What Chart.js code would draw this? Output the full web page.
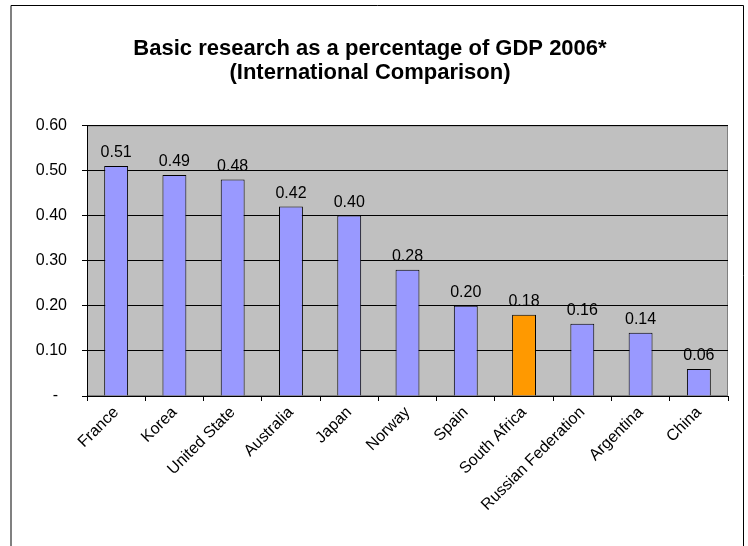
<!DOCTYPE html>
<html>
<head>
<meta charset="utf-8">
<script src="https://cdn.jsdelivr.net/npm/chart.js@4/dist/chart.umd.min.js"></script>
<style>
  html, body { margin: 0; padding: 0; background: #fff; }
  #wrap { width: 748px; height: 546px; }
</style>
</head>
<body>
<div id="wrap"><canvas id="chart" width="748" height="546"></canvas></div>
<script>
// Chart data
const countries = ['France', 'Korea', 'United State', 'Australia', 'Japan', 'Norway',
                   'Spain', 'South Africa', 'Russian Federation', 'Argentina', 'China'];
const basicResearch = [0.51, 0.49, 0.48, 0.42, 0.40, 0.28, 0.20, 0.18, 0.16, 0.14, 0.06];
const highlight = 'South Africa';
const yTicks = [0, 0.1, 0.2, 0.3, 0.4, 0.5, 0.6];

const FONT = "'Liberation Sans', Arial, sans-serif";

// grey plot area + outer frame
const framePlugin = {
    id: 'frame',
    beforeDraw(chart) {
        const ctx = chart.ctx;
        const a = chart.chartArea;
        ctx.save();
        ctx.fillStyle = '#C0C0C0';
        ctx.fillRect(a.left, a.top, a.right - a.left, a.bottom - a.top);
        ctx.strokeStyle = '#808080';
        ctx.lineWidth = 1;
        ctx.strokeRect(a.left + 0.5, a.top + 0.5, a.right - a.left - 1, a.bottom - a.top - 1);
        ctx.restore();
    },
    afterDraw(chart) {
        const ctx = chart.ctx;
        ctx.save();
        ctx.strokeStyle = '#808080';
        ctx.lineWidth = 2;
        ctx.beginPath();
        ctx.moveTo(11, 546);
        ctx.lineTo(11, 5.5);
        ctx.stroke();
        ctx.strokeStyle = '#000';
        ctx.lineWidth = 1;
        ctx.beginPath();
        ctx.moveTo(11, 5.5);
        ctx.lineTo(743.5, 5.5);
        ctx.lineTo(743.5, 546);
        ctx.stroke();
        ctx.restore();
    }
};

// value labels above each bar
const valueLabels = {
    id: 'valueLabels',
    afterDatasetsDraw(chart) {
        const ctx = chart.ctx;
        const meta = chart.getDatasetMeta(0);
        ctx.save();
        ctx.font = '16px ' + FONT;
        ctx.fillStyle = '#000';
        ctx.textAlign = 'center';
        ctx.textBaseline = 'alphabetic';
        meta.data.forEach((bar, i) => {
            ctx.fillText(basicResearch[i].toFixed(2), bar.x, bar.y - 9);
        });
        ctx.restore();
    }
};

new Chart(document.getElementById('chart'), {
    type: 'bar',
    data: {
        labels: countries,
        datasets: [{
            data: basicResearch,
            backgroundColor: countries.map(c => c === highlight ? '#FF9900' : '#9999FF'),
            borderColor: '#000',
            borderWidth: 1,
            categoryPercentage: 1,
            barPercentage: 0.41
        }]
    },
    options: {
        responsive: false,
        animation: false,
        layout: { padding: { top: 37, left: 12, right: 20, bottom: 0 } },
        plugins: {
            legend: { display: false },
            tooltip: { enabled: false },
            title: {
                display: true,
                text: ['Basic research as a percentage of GDP 2006*', '(International Comparison)'],
                color: '#000',
                font: { family: FONT, size: 22, weight: 'bold', lineHeight: 1.1 },
                padding: { top: 0, bottom: 40 }
            }
        },
        scales: {
            x: {
                grid: {
                    offset: true,
                    drawOnChartArea: false,
                    drawTicks: true,
                    tickLength: 5,
                    color: '#000'
                },
                border: { color: '#000' },
                ticks: {
                    color: '#000',
                    font: { family: FONT, size: 16 },
                    minRotation: 45,
                    maxRotation: 45,
                    padding: 2
                },
                afterFit(scale) { scale.height = 150; }
            },
            y: {
                min: 0,
                max: 0.6,
                afterBuildTicks(scale) { scale.ticks = yTicks.map(v => ({ value: v })); },
                grid: {
                    color: '#000',
                    tickLength: 5,
                    drawTicks: true
                },
                border: { color: '#000' },
                ticks: {
                    color: '#000',
                    font: { family: FONT, size: 16 },
                    padding: 15,
                    callback: v => v === 0 ? '-  ' : v.toFixed(2)
                },
                afterFit(scale) { scale.width = 75; }
            }
        }
    },
    plugins: [framePlugin, valueLabels]
});
</script>
</body>
</html>
